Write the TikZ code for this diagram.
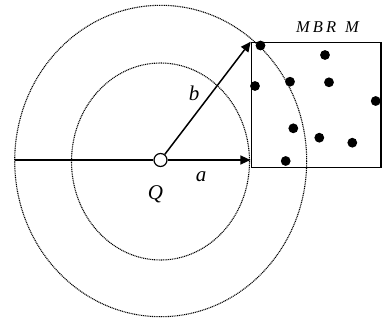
\documentclass[tikz,border=0pt]{standalone}
\usepackage{fontspec}
\setmainfont{Liberation Serif}
\usetikzlibrary{arrows.meta}
\tikzset{
  ring/.style={dash pattern=on 1pt off 0.8pt, line width=1.1pt},
  solidline/.style={line width=1.5pt},
  ptr/.style={solidline, -{Triangle[length=10pt,width=9pt]}},
  pt/.style={circle, fill=black, inner sep=0pt, minimum size=9.8pt},
  lbl/.style={font=\fontsize{21}{21}\selectfont\itshape, inner sep=0pt},
}
\begin{document}
\begin{tikzpicture}[x=1pt,y=-1pt]
\useasboundingbox (0,0) rectangle (383,322);
% circles
\draw[ring] (160.7,161) ellipse [x radius=146, y radius=155.7];
\draw[ring] (160.5,161.5) ellipse [x radius=89, y radius=98.5];
% MBR
\node[solidline, draw, anchor=north west, minimum width=129.3pt, minimum height=124.8pt, inner sep=0pt] (mbr) at (250.7,41.7) {};
% query point
\node[circle, draw, line width=1.2pt, fill=white, inner sep=0pt, minimum size=13pt] (Q) at (160.5,160) {};
\coordinate (left) at (14.7,160);
\coordinate (aend) at (250.4,160);
\draw[solidline] (left) -- (Q);
\draw[ptr] (Q) -- (aend);
\draw[ptr] (Q) -- (mbr.north west);
% points
\node[pt] (p1) at (260.5,45.5) {};
\node[pt] (p2) at (325,55) {};
\node[pt] (p3) at (255,86) {};
\node[pt] (p4) at (290,81.7) {};
\node[pt] (p5) at (329,82.3) {};
\node[pt] (p6) at (375.7,101) {};
\node[pt] (p7) at (293.3,128.3) {};
\node[pt] (p8) at (319.3,137.7) {};
\node[pt] (p9) at (352.3,142.7) {};
\node[pt] (p10) at (285.7,161) {};
% labels
\node[lbl] (lQ) at (155.5,194) {Q};
\node[lbl] (la) at (201,177) {a};
\node[lbl] (lb) at (194,93) {b};
\node[lbl, font=\fontsize{16.5}{16.5}\selectfont\itshape, anchor=base west] (lM) at (296,32) {M\hspace{3pt}B\hspace{3pt}R\hspace{9pt}M};
\end{tikzpicture}
\end{document}
